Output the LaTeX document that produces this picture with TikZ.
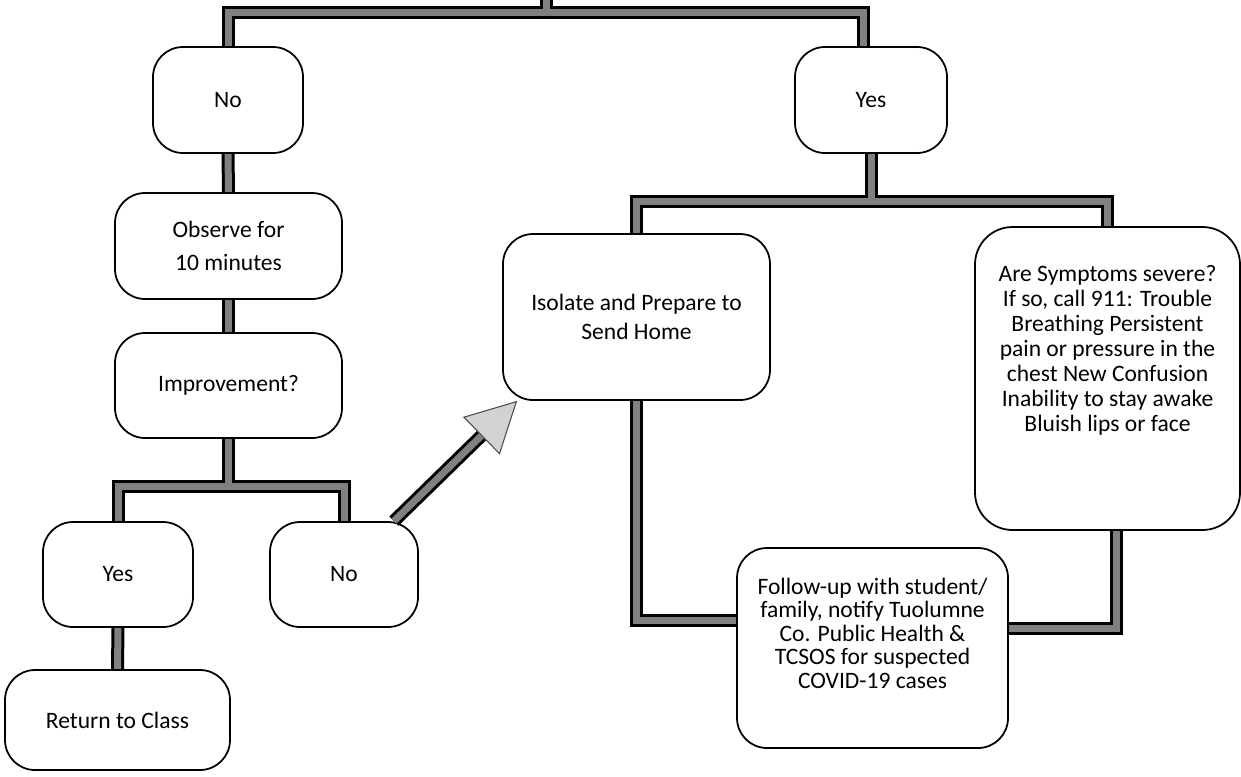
\documentclass[tikz,border=0pt]{standalone}
\usepackage{fontspec}
\setmainfont{Carlito}
\usetikzlibrary{positioning, calc, arrows.meta, backgrounds}

\tikzset{
  box/.style={draw, line width=1pt, fill=white, rounded corners=0.6cm, align=center, inner sep=0pt, font=\fontsize{13.4}{14.2}\selectfont},
  barout/.style={line width=0.26cm, draw=black},
  barin/.style={line width=0.14cm, draw=black!50},
  arrowout/.style={line width=0.26cm, draw=black, -{Triangle[length=1cm, width=1.05cm, fill=gray!35, color=gray!60!black, line width=0.6pt]}},
  arrowin/.style={line width=0.14cm, draw=black!50, shorten >=1cm}
}
\newcommand{\connect}[1]{\draw[barout] #1; \draw[barin] #1;}

\begin{document}
\begin{tikzpicture}
    \useasboundingbox (0,0) rectangle (24.82,-15.52);

    % First split
    \node[box, minimum width=3cm, minimum height=2.12cm] (noA) at (4.56,-2.00) {No};
    \node[box, minimum width=3.04cm, minimum height=2.12cm] (yesA) at (17.42,-2.00) {Yes};

    % No branch
    \node[box, minimum width=4.54cm, minimum height=2.12cm, font=\fontsize{13.4}{18.7}\selectfont] (observe) at (4.57,-4.92) {Observe for\\10 minutes};
    \node[box, minimum width=4.54cm, minimum height=2.1cm] (improve) at (4.57,-7.71) {Improvement?};
    \node[box, minimum width=3cm, minimum height=2.1cm] (yesB) at (2.36,-11.49) {Yes};
    \node[box, minimum width=2.96cm, minimum height=2.1cm] (noB) at (6.88,-11.49) {No};
    \node[box, minimum width=4.5cm, minimum height=2cm] (back) at (2.35,-14.40) {Return to Class};

    % Yes branch
    \node[box, minimum width=5.34cm, minimum height=3.32cm, font=\fontsize{13.4}{16.4}\selectfont] (isolate) at (12.73,-6.34) {Isolate and Prepare to\\Send Home};
    \node[box, minimum width=5.3cm, minimum height=6.06cm, rounded corners=0.75cm, text depth=1.2cm] (severe) at (22.15,-7.57) {Are Symptoms severe?\\If so, call 911: Trouble\\Breathing Persistent\\pain or pressure in the\\chest New Confusion\\Inability to stay awake\\Bluish lips or face};
    \node[box, minimum width=5.42cm, minimum height=4cm, font=\fontsize{13.4}{13.4}\selectfont, text depth=0.6cm] (follow) at (17.45,-12.96) {Follow-up with student/\\family, notify Tuolumne\\Co. Public Health \&\\TCSOS for suspected\\COVID-19 cases};

    % Joints of the bars
    \coordinate (topend) at (10.92,0.2);
    \coordinate (topjoin) at (10.92,-0.25);
    \coordinate (yesjoin) at (17.42,-4.02);
    \coordinate (impjoin) at (4.57,-9.73);

    % Bars
    \begin{pgfonlayer}{background}
    \connect{(noA.north) |- (topjoin) -| ([xshift=-0.15cm]yesA.north) (topjoin) -- (topend)}
    \connect{(noA.south) -- (observe.north)}
    \connect{(observe.south) -- (improve.north)}
    \connect{(yesB.north) |- (impjoin) -| (noB.north) (impjoin) -- (improve.south)}
    \connect{(yesB.south) -- (back.north)}
    \connect{(isolate.north) |- (yesjoin) -| (severe.north) (yesjoin) -- (yesA.south)}
    \connect{(isolate.south) |- ([yshift=0.56cm]follow.west)}
    \connect{([xshift=0.17cm]severe.south) |- ([yshift=0.4cm]follow.east)}
    \end{pgfonlayer}

    % Arrow to isolation
    \draw[arrowout] ([xshift=-0.5cm]noB.north east) -- ([xshift=0.3cm]isolate.south west);
    \draw[arrowin] ([xshift=-0.5cm]noB.north east) -- ([xshift=0.3cm]isolate.south west);
\end{tikzpicture}
\end{document}
